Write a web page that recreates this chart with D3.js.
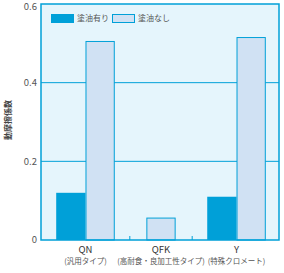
<!DOCTYPE html>
<html><head><meta charset="utf-8">
<script src="https://cdn.jsdelivr.net/npm/d3@7"></script>
<style>body{margin:0;background:#fff}svg{display:block}</style>
</head><body>
<script>
const categories = ["QN", "QFK", "Y"];
const subLabels = ["(汎用タイプ)", "(高耐食・良加工性タイプ)", "(特殊クロメート)"];
const seriesNames = ["塗油有り", "塗油なし"];
const oiled = [0.12, null, 0.11];
const unoiled = [0.506, 0.057, 0.516];
const yTicks = [0, 0.2, 0.4, 0.6];
const yTitle = "動摩擦係数";

const W = 284, H = 273;
const m = {l: 41, r: 5, t: 4, b: 33};
const blue = "#00a0d8", light = "#d0e1f3", bg = "#e5f5fc", txt = "#555";
const font = "'Noto Sans CJK JP', 'Liberation Sans', sans-serif";

const svg = d3.select("body").append("svg").attr("width", W).attr("height", H);
const x0 = m.l, x1 = W - m.r, y0 = H - m.b, y1 = m.t;

const y = d3.scaleLinear().domain([0, 0.6]).range([y0, y1]);
const x = d3.scaleBand().domain(categories).range([x0 + 13.3, x1 - 11.3]).paddingInner(0.174).paddingOuter(0);
const xs = d3.scaleBand().domain(seriesNames).range([0, x.bandwidth()]).paddingInner(0).paddingOuter(0.065);

svg.append("rect").attr("x", x0).attr("y", y1).attr("width", x1 - x0).attr("height", y0 - y1).attr("fill", bg);

// grid
svg.append("g").selectAll("line").data(yTicks.filter(d => d > 0 && d < 0.6)).join("line")
  .attr("x1", x0).attr("x2", x1).attr("y1", d => y(d)).attr("y2", d => y(d))
  .attr("stroke", blue).attr("stroke-width", 1);

// ticks for QFK band
const qfk = "QFK";
svg.append("g").selectAll("line").data([x(qfk), x(qfk) + x.bandwidth()]).join("line")
  .attr("x1", d => d).attr("x2", d => d).attr("y1", y0).attr("y2", y0 - 4)
  .attr("stroke", blue).attr("stroke-width", 1);

const bw = xs.bandwidth();
// oiled bars
svg.append("g").selectAll("rect").data(categories.map((c, i) => ({c, v: oiled[i]})).filter(d => d.v != null)).join("rect")
  .attr("x", d => x(d.c) + xs(seriesNames[0])).attr("y", d => y(d.v))
  .attr("width", bw).attr("height", d => y0 - y(d.v)).attr("fill", blue);
// unoiled bars (centered in band when the oiled value is missing)
svg.append("g").selectAll("rect").data(categories.map((c, i) => ({c, v: unoiled[i], solo: oiled[i] == null}))).join("rect")
  .attr("x", d => (d.solo ? x(d.c) + (x.bandwidth() - bw) / 2 : x(d.c) + xs(seriesNames[1])) + 0.5)
  .attr("y", d => y(d.v) + 0.5)
  .attr("width", bw - 1).attr("height", d => y0 - y(d.v) - 0.5)
  .attr("fill", light).attr("stroke", blue).attr("stroke-width", 1);

// frame
svg.append("rect").attr("x", x0).attr("y", y1).attr("width", x1 - x0).attr("height", y0 - y1)
  .attr("fill", "none").attr("stroke", blue).attr("stroke-width", 1.5);

// y tick labels
svg.append("g").selectAll("text").data(yTicks).join("text")
  .attr("x", x0 - 4).attr("y", d => Math.max(y(d), 6.5)).attr("dy", "0.35em").attr("text-anchor", "end")
  .attr("font-family", font).attr("font-size", 9.5).attr("fill", txt)
  .text(d => d === 0 ? "0" : d.toFixed(1));

// y title
svg.append("text").attr("transform", `translate(11,120) rotate(-90)`).attr("text-anchor", "middle")
  .attr("font-family", font).attr("font-size", 8).attr("font-weight", "bold").attr("fill", "#444").text(yTitle);

// x labels
const xl = svg.append("g");
categories.forEach((c, i) => {
  const cx = x(c) + x.bandwidth() / 2;
  xl.append("text").attr("x", cx).attr("y", 253).attr("text-anchor", "middle")
    .attr("font-family", font).attr("font-size", 9.5).attr("fill", "#333").text(c);
  xl.append("text").attr("x", cx).attr("y", 264).attr("text-anchor", "middle")
    .attr("font-family", font).attr("font-size", 7.5).attr("fill", txt).text(subLabels[i]);
});

// legend
const lg = svg.append("g");
const legX = [51, 112];
seriesNames.forEach((s, i) => {
  lg.append("rect").attr("x", legX[i] + (i ? 0.5 : 0)).attr("y", 14 + (i ? 0.5 : 0))
    .attr("width", 23 - (i ? 1 : 0)).attr("height", 9 - (i ? 1 : 0))
    .attr("fill", i ? light : blue).attr("stroke", i ? blue : "none");
  lg.append("text").attr("x", legX[i] + 26).attr("y", 18.5).attr("dy", "0.35em")
    .attr("font-family", font).attr("font-size", 8).attr("fill", txt).text(s);
});
</script>
</body></html>
